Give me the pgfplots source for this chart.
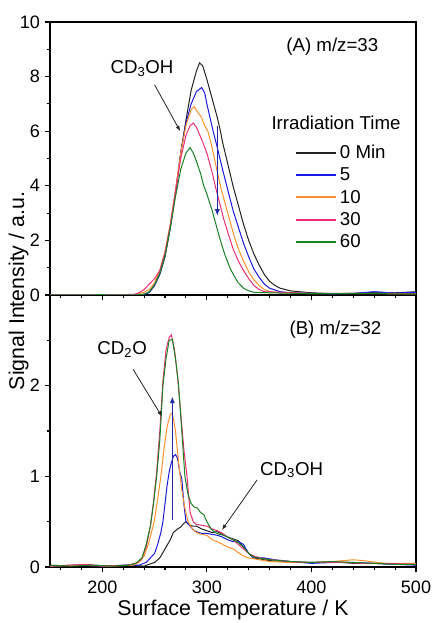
\documentclass[border=0pt]{standalone}
\usepackage{pgfplots}
\pgfplotsset{compat=1.18}
\usepackage{fontspec}
\setmainfont{Liberation Sans}
\usetikzlibrary{arrows.meta}
\definecolor{cblack}{RGB}{35,35,35}
\definecolor{cblue}{RGB}{25,25,225}
\definecolor{corange}{RGB}{250,145,45}
\definecolor{cpink}{RGB}{235,45,115}
\definecolor{cgreen}{RGB}{25,130,35}
\definecolor{carrow}{RGB}{30,40,170}
\pgfplotsset{
  common/.style={
    scale only axis, width=274.5pt,
    xmin=150, xmax=500,
    xtick={200,300,400,500},
    minor xtick={160,180,220,240,260,280,320,340,360,380,420,440,460,480},
    tick align=outside, xtick pos=bottom, ytick pos=left,
    major tick length=4pt, minor tick length=2.5pt,
    axis line style={line width=0.9pt}, every tick/.style={line width=0.8pt, black},
    tick label style={font=\fontsize{13.5}{13.5}\selectfont},
    /pgf/number format/assume math mode=true,
    every axis plot/.append style={line width=0.75pt},
    clip=true,
  }
}
\begin{document}
\begin{tikzpicture}
\useasboundingbox (-37.5pt,-42pt) rectangle (287.25pt,425.25pt);
% ---------------- bottom panel (B) ----------------
\begin{axis}[common, at={(0,0)}, anchor=south west, height=204pt,
  ymin=0, ymax=3, ytick={0,1,2}, minor ytick={0.5,1.5,2.5},
  xticklabel style={yshift=-3pt},
]
\addplot[color=cblack] coordinates {(150,0.02)(170,0.01)(190,0.02)(210,0.01)(225,0.02)(240,0.01)(245,0.03)(250,0.05)(255,0.1)(260,0.2)(265,0.3)(268,0.38)(272,0.42)(275,0.44)(277,0.47)(280,0.5)(283,0.47)(286,0.45)(290,0.45)(295,0.42)(300,0.4)(305,0.38)(310,0.39)(315,0.36)(320,0.33)(325,0.31)(330,0.29)(335,0.22)(340,0.15)(345,0.1)(350,0.09)(360,0.07)(380,0.06)(400,0.05)(420,0.06)(440,0.04)(460,0.04)(480,0.03)(500,0.03)};
\addplot[color=cblue] coordinates {(150,0.01)(175,0.02)(200,0.01)(220,0.02)(235,0.02)(242,0.05)(246,0.1)(250,0.15)(253,0.25)(256,0.38)(258,0.5)(260,0.7)(262,0.9)(264,1.05)(266,1.15)(268,1.22)(270,1.24)(272,1.2)(274,1.05)(276,0.98)(278,0.7)(280,0.5)(284,0.45)(288,0.4)(292,0.38)(296,0.37)(300,0.37)(305,0.36)(310,0.35)(315,0.33)(320,0.3)(325,0.28)(330,0.28)(335,0.25)(340,0.15)(345,0.1)(355,0.1)(365,0.08)(380,0.06)(400,0.04)(420,0.05)(440,0.05)(460,0.04)(480,0.03)(500,0.02)};
\addplot[color=corange] coordinates {(150,0.01)(180,0.02)(205,0.01)(230,0.02)(236,0.06)(240,0.12)(244,0.25)(247,0.38)(250,0.52)(253,0.75)(256,1.0)(259,1.3)(262,1.55)(265,1.68)(267,1.7)(270,1.5)(273,1.15)(276,0.85)(279,0.65)(282,0.5)(286,0.42)(290,0.38)(295,0.36)(300,0.35)(305,0.3)(310,0.28)(315,0.25)(320,0.22)(325,0.2)(330,0.16)(335,0.12)(340,0.1)(350,0.08)(360,0.06)(380,0.05)(400,0.05)(420,0.06)(440,0.08)(450,0.07)(470,0.04)(500,0.04)};
\addplot[color=cpink] coordinates {(150,0.01)(185,0.03)(200,0.01)(225,0.02)(234,0.05)(238,0.1)(242,0.22)(246,0.45)(249,0.72)(252,1.05)(255,1.5)(258,2.05)(261,2.4)(264,2.53)(266,2.56)(269,2.4)(272,2.1)(275,1.7)(278,1.3)(281,1.0)(284,0.6)(287,0.5)(290,0.47)(295,0.46)(300,0.45)(305,0.42)(310,0.4)(315,0.37)(320,0.33)(325,0.3)(330,0.25)(335,0.2)(340,0.15)(345,0.12)(355,0.09)(370,0.07)(390,0.05)(410,0.05)(430,0.05)(450,0.04)(470,0.04)(500,0.03)};
\addplot[color=cgreen] coordinates {(150,0.02)(170,0.01)(190,0.02)(210,0.01)(225,0.02)(232,0.04)(238,0.1)(242,0.25)(246,0.45)(249,0.7)(252,1.0)(255,1.4)(258,2.0)(261,2.3)(264,2.5)(267,2.51)(270,2.3)(273,2.0)(276,1.5)(279,1.0)(282,0.8)(285,0.7)(288,0.66)(291,0.65)(294,0.6)(297,0.58)(300,0.5)(304,0.42)(308,0.38)(312,0.36)(316,0.35)(320,0.33)(325,0.3)(330,0.27)(335,0.22)(340,0.15)(345,0.11)(350,0.1)(360,0.08)(370,0.07)(380,0.06)(400,0.05)(420,0.06)(440,0.05)(460,0.04)(480,0.03)(500,0.03)};
\draw[carrow, line width=0.9pt, -{Latex[length=5pt,width=4pt]}] (axis cs:267,0.52) -- (axis cs:267,1.88);
\draw[cblack, line width=0.6pt, -{Latex[length=4pt,width=3pt]}] (axis cs:229.5,2.18) -- (axis cs:257,1.66);
\draw[cblack, line width=0.6pt, -{Latex[length=4pt,width=3pt]}] (axis cs:348,0.96) -- (axis cs:314.5,0.41);
\node[font=\fontsize{14}{14}\selectfont] at (axis cs:219,2.4) {CD\textsubscript{2}O};
\node[font=\fontsize{14}{14}\selectfont] at (axis cs:381,1.07) {CD\textsubscript{3}OH};
\node[font=\fontsize{14}{14}\selectfont] at (axis cs:423,2.62) {(B) m/z=32};
\end{axis}
% ---------------- top panel (A) ----------------
\begin{axis}[common, at={(0,204pt)}, anchor=south west, height=204.75pt,
  ymin=0, ymax=10, ytick={0,2,4,6,8,10}, minor ytick={1,3,5,7,9},
  xticklabels={},
  legend style={at={(axis cs:384.4,5.6)}, anchor=north west, draw=none, fill=none,
    inner sep=0pt, font=\fontsize{14}{14}\selectfont, row sep=1.5pt},
  legend cell align=left,
  legend image code/.code={\draw[#1, line width=1.45pt] (0pt,0.2pt) -- (30pt,0.2pt);},
]
\addplot[color=cblack] coordinates {(150,0.0)(200,0.01)(230,0.0)(240,0.02)(245,0.1)(250,0.35)(255,0.75)(260,1.4)(265,2.45)(270,3.7)(275,5.2)(280,6.4)(285,7.5)(290,8.2)(293,8.5)(296,8.4)(300,7.9)(305,7.2)(310,6.5)(313,6.0)(315,5.6)(320,4.8)(325,4.0)(330,3.3)(335,2.6)(340,2.0)(345,1.5)(350,1.1)(355,0.75)(360,0.5)(365,0.35)(370,0.25)(380,0.15)(400,0.08)(420,0.05)(440,0.06)(460,0.1)(480,0.08)(500,0.12)};
\addlegendentry{0 Min}
\addplot[color=cblue] coordinates {(150,0.0)(200,0.01)(230,0.0)(240,0.02)(245,0.1)(250,0.35)(255,0.78)(260,1.45)(265,2.5)(270,3.75)(275,5.2)(280,6.3)(285,7.0)(290,7.45)(295,7.6)(298,7.4)(300,7.0)(303,6.5)(306,6.0)(310,5.4)(315,4.6)(320,3.85)(325,3.1)(330,2.5)(335,1.9)(340,1.4)(345,0.95)(350,0.65)(355,0.4)(360,0.25)(370,0.12)(380,0.08)(400,0.06)(420,0.04)(440,0.06)(460,0.12)(480,0.07)(500,0.1)};
\addlegendentry{5}
\addplot[color=corange] coordinates {(150,0.0)(200,0.01)(230,0.01)(235,0.05)(240,0.1)(245,0.2)(250,0.45)(255,0.9)(260,1.6)(265,2.6)(270,3.85)(275,5.2)(280,6.2)(285,6.8)(288,6.9)(291,6.7)(295,6.5)(298,6.2)(301,6.0)(305,5.4)(310,4.5)(313,4.0)(315,3.7)(320,3.0)(325,2.3)(330,1.7)(335,1.25)(340,0.85)(345,0.55)(350,0.35)(355,0.2)(360,0.12)(370,0.08)(400,0.05)(450,0.06)(500,0.05)};
\addlegendentry{10}
\addplot[color=cpink] coordinates {(150,0.0)(200,0.01)(230,0.02)(235,0.08)(240,0.2)(245,0.4)(250,0.6)(255,0.9)(260,1.55)(265,2.55)(270,3.8)(275,5.0)(280,5.85)(284,6.2)(287,6.3)(290,6.15)(295,5.7)(300,5.2)(305,4.5)(308,4.0)(312,3.4)(316,2.8)(320,2.3)(325,1.7)(330,1.25)(335,0.9)(340,0.6)(345,0.35)(350,0.2)(355,0.12)(370,0.1)(400,0.06)(450,0.05)(500,0.04)};
\addlegendentry{30}
\addplot[color=cgreen] coordinates {(150,0.0)(200,0.01)(230,0.0)(240,0.03)(245,0.12)(250,0.38)(255,0.8)(260,1.45)(265,2.45)(270,3.6)(275,4.6)(280,5.2)(284,5.4)(287,5.2)(290,4.9)(294,4.45)(297,4.0)(300,3.7)(305,3.1)(310,2.4)(313,2.0)(317,1.5)(322,1.0)(326,0.7)(330,0.45)(335,0.25)(340,0.15)(345,0.1)(360,0.08)(400,0.05)(450,0.05)(500,0.04)};
\addlegendentry{60}
\draw[carrow, line width=0.9pt, -{Latex[length=5pt,width=4pt]}] (axis cs:310,6.2) -- (axis cs:310,2.9);
\draw[cblack, line width=0.6pt, -{Latex[length=4pt,width=3pt]}] (axis cs:250,7.7) -- (axis cs:274.5,6.0);
\node[font=\fontsize{14}{14}\selectfont] at (axis cs:238,8.3) {CD\textsubscript{3}OH};
\node[font=\fontsize{14}{14}\selectfont] at (axis cs:420,9.1) {(A) m/z=33};
\node[font=\fontsize{14}{14}\selectfont] at (axis cs:423.5,6.3) {Irradiation Time};
\end{axis}
\node[rotate=90, font=\fontsize{16}{16}\selectfont] at (-23.5pt,207pt) {Signal Intensity / a.u.};
\node[font=\fontsize{16}{16}\selectfont] at (137.25pt,-32pt) {Surface Temperature / K};
\end{tikzpicture}
\end{document}
